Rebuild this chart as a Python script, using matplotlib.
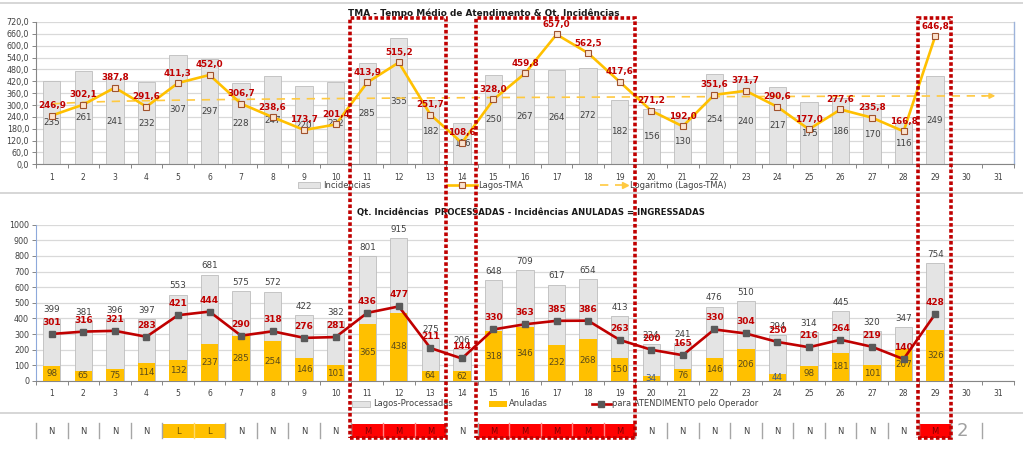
import numpy as np
import matplotlib
matplotlib.use('Agg')
import matplotlib.pyplot as plt
from matplotlib.patches import Rectangle
from matplotlib.lines import Line2D
import matplotlib.transforms as mtransforms

plt.rcParams['font.family'] = ['DejaVu Sans']

# ---------------- data ----------------
days = list(range(1, 32))
data_days = list(range(1, 30))
incidencias = [235, 261, 241, 232, 307, 297, 228, 247, 220, 232, 285, 355, 182, 116, 250,
               267, 264, 272, 182, 156, 130, 254, 240, 217, 175, 186, 170, 116, 249]
tma = [246.9, 302.1, 387.8, 291.6, 411.3, 452.0, 306.7, 238.6, 173.7, 201.4, 413.9, 515.2,
       251.7, 108.6, 328.0, 459.8, 657.0, 562.5, 417.6, 271.2, 192.0, 351.6, 371.7, 290.6,
       177.0, 277.6, 235.8, 166.8, 646.8]
processadas = [399, 381, 396, 397, 553, 681, 575, 572, 422, 382, 801, 915, 275, 206, 648,
               709, 617, 654, 413, 234, 241, 476, 510, 294, 314, 445, 320, 347, 754]
anuladas = [98, 65, 75, 114, 132, 237, 285, 254, 146, 101, 365, 438, 64, 62, 318,
            346, 232, 268, 150, 34, 76, 146, 206, 44, 98, 181, 101, 207, 326]
atendimento = [301, 316, 321, 283, 421, 444, 290, 318, 276, 281, 436, 477, 211, 144, 330,
               363, 385, 386, 263, 200, 165, 330, 304, 250, 216, 264, 219, 140, 428]
turno = ['N', 'N', 'N', 'N', 'L', 'L', 'N', 'N', 'N', 'N', 'M', 'M', 'M', 'N', 'M',
         'M', 'M', 'M', 'M', 'N', 'N', 'N', 'N', 'N', 'N', 'N', 'N', 'N', 'M']
destaques = [(11, 13), (15, 19), (29, 29)]

title_top = 'TMA - Tempo Médio de Atendimento & Qt. Incidências'
title_bot = 'Qt. Incidências  PROCESSADAS - Incidências ANULADAS = INGRESSADAS'

# ---------------- figure ----------------
W, H = 1023, 453
fig = plt.figure(figsize=(W / 100, H / 100), dpi=100)


def fx(x):
    return x / W


def fy(y):
    return 1 - y / H


GRAY_BAR = '#E4E4E4'
GRAY_EDGE = '#BDBDBD'
GOLD = '#FFC000'
DRED = '#C00000'
GRID = '#D9D9D9'
AXC = '#868686'
TXT = '#404040'

# ---------- top chart ----------
ax1 = fig.add_axes([fx(36), fy(164.3), fx(1014) - fx(36), fy(22) - fy(164.3)])
ax1b = ax1.twinx()
ax1b.set_zorder(ax1.get_zorder() - 1)
ax1.patch.set_visible(False)
ax1b.patch.set_visible(True)
ax1b.patch.set_facecolor('white')

ax1.set_xlim(0.5, 31.5)
ax1.set_ylim(0, 720)
ax1b.set_ylim(0, 400)
ax1b.set_yticks(np.linspace(0, 400, 13))
ax1b.tick_params(axis='y', length=0, labelright=False)
ax1b.grid(axis='y', color=GRID, lw=0.9)
ax1b.set_axisbelow(True)

bars1 = ax1b.bar(data_days, incidencias, width=0.55, color=GRAY_BAR, edgecolor=GRAY_EDGE,
                 linewidth=0.6, zorder=2)
ax1b.bar_label(bars1, labels=[str(v) for v in incidencias], label_type='center',
               fontsize=6.3, color=TXT)

ax1.plot(data_days, tma, color=GOLD, lw=1.9, marker='s', ms=4, mfc='#FBE3CF',
         mec='#A0522D', mew=0.8, zorder=5)
for d, v in zip(data_days, tma):
    ax1.annotate(f'{v:.1f}'.replace('.', ','), (d, v), xytext=(0, 7.2),
                 textcoords='offset points', ha='center', va='center',
                 fontsize=6.3, fontweight='bold', color=DRED, zorder=6)

# logarithmic trend line of TMA
xlog = np.log(np.array(data_days, dtype=float))
b, a = np.polyfit(xlog, tma, 1)
xt = np.linspace(1, 30.6, 300)
ax1.plot(xt, a + b * np.log(xt), color='#FFC940', lw=1.2, ls=(0, (5, 4)), zorder=4)
ax1.annotate('', xy=(31.0, a + b * np.log(31.0)), xytext=(30.4, a + b * np.log(30.4)),
             arrowprops=dict(arrowstyle='-|>', color='#FFC940', lw=1.2,
                             mutation_scale=8), zorder=4)

ax1.set_yticks(np.arange(0, 721, 60))
ax1.set_yticklabels([f'{v:.1f}'.replace('.', ',') for v in np.arange(0, 721, 60)])
ax1.set_xticks(days)
ax1.set_xticklabels([str(d) for d in days])
ax1.set_xticks(np.arange(0.5, 31.6, 1), minor=True)
ax1.tick_params(axis='x', which='major', length=0, labelsize=5.5, labelcolor=TXT, pad=6)
ax1.tick_params(axis='x', which='minor', length=3, color=AXC, width=0.7)
ax1.tick_params(axis='y', length=3, color=AXC, width=0.7, labelsize=5.8, labelcolor=TXT, pad=2)
for s in ['top', 'right']:
    ax1.spines[s].set_visible(False)
for s in ['top', 'left', 'bottom']:
    ax1b.spines[s].set_visible(False)
ax1.spines['left'].set_color(AXC)
ax1.spines['bottom'].set_color(AXC)
ax1b.spines['right'].set_color('#9DB3DB')
ax1b.spines['right'].set_linewidth(1.0)

# ---------- bottom chart ----------
ax2 = fig.add_axes([fx(36), fy(381), fx(1014) - fx(36), fy(224.7) - fy(381)])
ax2.set_xlim(0.5, 31.5)
ax2.set_ylim(0, 1000)
ax2.set_yticks(np.arange(0, 1001, 100))
ax2.grid(axis='y', color=GRID, lw=0.9)
ax2.set_axisbelow(True)

bars2 = ax2.bar(data_days, processadas, width=0.55, color=GRAY_BAR, edgecolor=GRAY_EDGE,
                linewidth=0.6, zorder=2)
bars3 = ax2.bar(data_days, anuladas, width=0.55, color=GOLD, linewidth=0, zorder=3)
ax2.bar_label(bars2, labels=[str(v) for v in processadas], padding=3,
              fontsize=6.3, color=TXT)
anul_txt = ax2.bar_label(bars3, labels=[str(v) for v in anuladas], label_type='center',
                         fontsize=6.3, color='#5A4A1A')
for t, v in zip(anul_txt, anuladas):
    if v < 50:
        t.set_color('#3A5A8C')

ax2.plot(data_days, atendimento, color=DRED, lw=1.9, marker='s', ms=4.5, mfc='#595959',
         mec='#595959', zorder=5)
for d, v in zip(data_days, atendimento):
    ax2.annotate(str(v), (d, v), xytext=(0, 8.3), textcoords='offset points',
                 ha='center', va='center', fontsize=6.5, fontweight='bold',
                 color=DRED, zorder=6)

ax2.set_xticks(days)
ax2.set_xticklabels([str(d) for d in days])
ax2.set_xticks(np.arange(0.5, 31.6, 1), minor=True)
ax2.tick_params(axis='x', which='major', length=0, labelsize=5.5, labelcolor=TXT, pad=6)
ax2.tick_params(axis='x', which='minor', length=3, color=AXC, width=0.7)
ax2.tick_params(axis='y', length=3, color=AXC, width=0.7, labelsize=5.8, labelcolor=TXT, pad=2)
for s in ['top', 'right']:
    ax2.spines[s].set_visible(False)
ax2.spines['left'].set_color('#8EA9DB')
ax2.spines['bottom'].set_color(AXC)

# ---------- titles ----------
fig.text(fx(348), fy(13), title_top, fontsize=6.4, fontweight='bold', color='#1a1a1a',
         ha='left', va='center')
fig.text(fx(357), fy(212.5), title_bot, fontsize=6.1, fontweight='bold', color='#1a1a1a',
         ha='left', va='center')

# ---------- panel lines ----------
for yy in [3, 193, 413]:
    fig.add_artist(Line2D([0, 1], [fy(yy), fy(yy)], color='#D0D0D0', lw=1.2))

# ---------- legends (top) ----------
ly = fy(185)
fig.add_artist(Rectangle((fx(298), fy(188)), fx(22), fy(182) - fy(188), fc=GRAY_BAR,
                         ec=GRAY_EDGE, lw=0.6))
fig.text(fx(323), ly, 'Incidencias', fontsize=6, color=TXT, va='center')
fig.add_artist(Line2D([fx(447), fx(477)], [ly, ly], color=GOLD, lw=1.9))
fig.add_artist(Line2D([fx(462)], [ly], marker='s', ms=4, mfc='#FBE3CF', mec='#A0522D',
                      mew=0.8))
fig.text(fx(478), ly, 'Lagos-TMA', fontsize=6, color=TXT, va='center')
fig.add_artist(Line2D([fx(600), fx(622)], [ly, ly], color='#FFC940', lw=1.2, ls=(0, (5, 4))))
fig.add_artist(Line2D([fx(625)], [ly], marker='>', ms=4, color='#FFC940', mec='#FFC940'))
fig.text(fx(630), ly, 'Logaritmo (Lagos-TMA)', fontsize=6, color=TXT, va='center')

# ---------- legends (bottom) ----------
ly2 = fy(404)
fig.add_artist(Rectangle((fx(352), fy(407)), fx(18), fy(401) - fy(407), fc=GRAY_BAR,
                         ec=GRAY_EDGE, lw=0.6))
fig.text(fx(373), ly2, 'Lagos-Processadas', fontsize=6, color=TXT, va='center')
fig.add_artist(Rectangle((fx(489), fy(407)), fx(18), fy(401) - fy(407), fc=GOLD, ec='none'))
fig.text(fx(509), ly2, 'Anuladas', fontsize=6, color=TXT, va='center')
fig.add_artist(Line2D([fx(592), fx(611)], [ly2, ly2], color=DRED, lw=1.9))
fig.add_artist(Line2D([fx(601)], [ly2], marker='s', ms=4, mfc='#595959', mec='#595959'))
fig.text(fx(612), ly2, 'para ATENDIMENTO pelo Operador', fontsize=6, color=TXT, va='center')

# ---------- shift strip ----------
tr = mtransforms.blended_transform_factory(ax2.transData, fig.transFigure)
fill_colors = {'L': GOLD, 'M': '#FF0000'}
letter_colors = {'N': '#404040', 'L': '#6B5000', 'M': '#7A0000'}
for d, t in zip(data_days, turno):
    if t in fill_colors:
        fig.add_artist(Rectangle((d - 0.5, fy(437.5)), 1.0, fy(423.5) - fy(437.5),
                                 transform=tr, fc=fill_colors[t], ec='none', zorder=2))
    fig.text(d, fy(431), t, transform=tr, ha='center', va='center', fontsize=6,
             color=letter_colors[t], zorder=4)
for k in range(0, 31):
    xb = k + 0.5
    left = turno[k - 1] if 1 <= k <= len(turno) else None
    right = turno[k] if k < len(turno) else None
    col = '#FF8080' if (left == 'M' and right == 'M') else (
        '#FFD966' if (left == 'L' and right == 'L') else '#A6A6A6')
    fig.add_artist(Line2D([xb, xb], [fy(423), fy(438)], transform=tr, color=col,
                          lw=1.0, zorder=3))
fig.text(fx(962), fy(431), '2', fontsize=13, color='#A0A0A0', ha='center', va='center')

# ---------- highlight boxes ----------
tr1 = mtransforms.blended_transform_factory(ax1.transData, fig.transFigure)
for d0, d1 in destaques:
    fig.add_artist(Rectangle((d0 - 0.55, fy(438)), (d1 - d0) + 1.05, fy(18) - fy(438),
                             transform=tr1, fill=False, ec=DRED, lw=2.6,
                             ls=(0, (1, 0.65)), zorder=10))

fig.savefig('out.png', dpi=100)
